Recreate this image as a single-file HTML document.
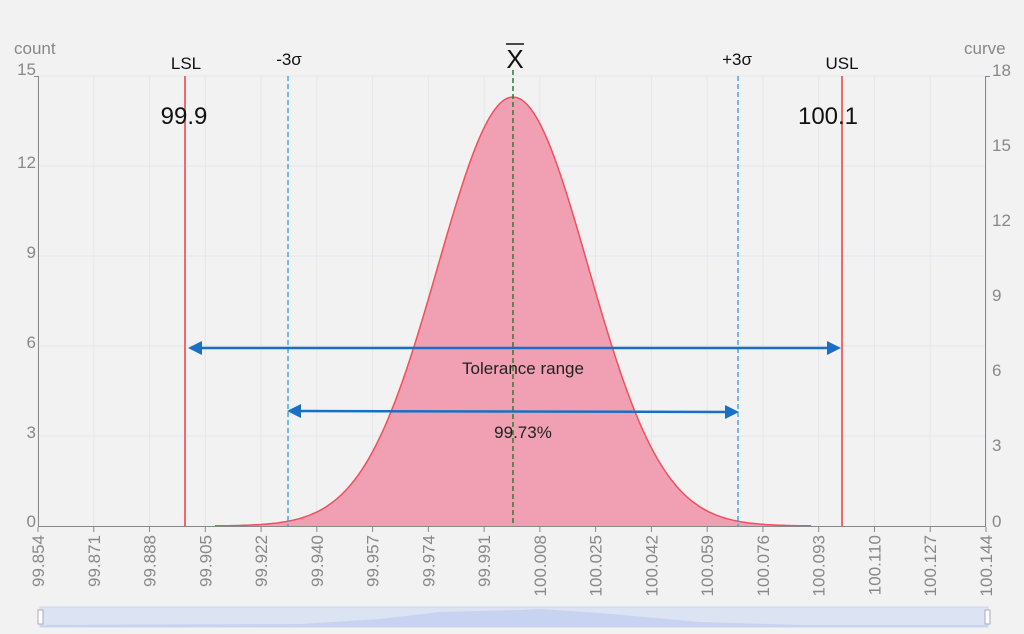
<!DOCTYPE html>
<html><head><meta charset="utf-8"><style>
body{margin:0;background:#f2f2f2;}
svg{display:block;font-family:"Liberation Sans","DejaVu Sans",sans-serif;}
</style></head><body>
<svg width="1024" height="634" viewBox="0 0 1024 634" xmlns="http://www.w3.org/2000/svg">
<rect width="1024" height="634" fill="#f2f2f2"/>
<g stroke="#e2e6ee" stroke-width="1">
<line x1="38" y1="76" x2="986" y2="76"/><line x1="38" y1="166" x2="986" y2="166"/>
<line x1="38" y1="256" x2="986" y2="256"/><line x1="38" y1="346" x2="986" y2="346"/>
<line x1="38" y1="436" x2="986" y2="436"/>
</g>
<g stroke="#e6e6ea" stroke-width="1" id="vg"></g>
<path id="fill" fill="#f0a0b2" stroke="none"/>
<path id="curve" fill="none" stroke="#f0505e" stroke-width="1.5"/>
<g stroke="#888" stroke-width="1">
<line x1="38.5" y1="76" x2="38.5" y2="527"/><line x1="985.5" y1="76" x2="985.5" y2="527"/>
<line x1="38" y1="526.5" x2="986" y2="526.5"/>
<line x1="34" y1="76.5" x2="38" y2="76.5"/><line x1="986" y1="76.5" x2="990" y2="76.5"/>
</g>
<g id="xt" stroke="#888"></g>
<g fill="#888" font-size="17">
<text x="36" y="75" text-anchor="end">15</text><text x="36" y="168" text-anchor="end">12</text>
<text x="36" y="258" text-anchor="end">9</text><text x="36" y="348" text-anchor="end">6</text>
<text x="36" y="438" text-anchor="end">3</text><text x="36" y="527" text-anchor="end">0</text>
<text x="992" y="76">18</text><text x="992" y="151">15</text><text x="992" y="226">12</text>
<text x="992" y="301">9</text><text x="992" y="376">6</text><text x="992" y="451">3</text>
<text x="992" y="527">0</text>
<text x="14" y="54">count</text><text x="964" y="54">curve</text>
</g>
<g id="xl" fill="#888" font-size="17"></g>
<line x1="185" y1="76" x2="185" y2="526" stroke="#f06a6a" stroke-width="2"/>
<line x1="842" y1="76" x2="842" y2="526" stroke="#f06a6a" stroke-width="2"/>
<line x1="288" y1="76" x2="288" y2="526" stroke="#2aa3dc" stroke-width="1.3" stroke-dasharray="5,3"/>
<line x1="738" y1="76" x2="738" y2="526" stroke="#2aa3dc" stroke-width="1.3" stroke-dasharray="5,3"/>
<line x1="513" y1="70" x2="513" y2="526" stroke="#2e7a2e" stroke-width="1.5" stroke-dasharray="5,3"/>
<g fill="#111" font-size="17" text-anchor="middle">
<text x="186" y="69">LSL</text><text x="842" y="69">USL</text>
<text x="289" y="65">-3σ</text><text x="737" y="65">+3σ</text>
<text x="515" y="68" font-size="26">X</text>
</g>
<line x1="506" y1="44" x2="524" y2="44" stroke="#111" stroke-width="1.5"/>
<text x="184" y="124" font-size="24" text-anchor="middle" fill="#111">99.9</text>
<text x="828" y="124" font-size="24" text-anchor="middle" fill="#111">100.1</text>
<g stroke="#1a6fc4" stroke-width="2.5" fill="#1a6fc4">
<line x1="196" y1="348" x2="832" y2="348"/>
<path d="M188 348 L202 341 L202 355 Z" stroke="none"/><path d="M841 348 L827 341 L827 355 Z" stroke="none"/>
<line x1="296" y1="411" x2="730" y2="412"/>
<path d="M287 411 L301 404 L301 418 Z" stroke="none"/><path d="M739 412 L725 405 L725 419 Z" stroke="none"/>
</g>
<g fill="#222" font-size="17" text-anchor="middle">
<text x="523" y="374">Tolerance range</text><text x="523" y="438">99.73%</text>
</g>
<rect x="40" y="607" width="948" height="20" fill="#dce3f2" stroke="#cdd6ec"/>
<path d="M40 625 L300 624 L380 619 L440 612 L520 610 L540 609 L600 613 L700 622 L800 625 L988 625 L988 627 L40 627Z" fill="#c7d3f0"/>
<rect x="38" y="610" width="5" height="14" fill="#fff" stroke="#aab"/>
<rect x="985" y="610" width="5" height="14" fill="#fff" stroke="#aab"/>
</svg>
<script>
var labs=["99.854","99.871","99.888","99.905","99.922","99.940","99.957","99.974","99.991","100.008","100.025","100.042","100.059","100.076","100.093","100.110","100.127","100.144"];
var xt=document.getElementById('xt'),xl=document.getElementById('xl'),vg=document.getElementById('vg'),ns="http://www.w3.org/2000/svg";
for(var i=0;i<18;i++){var x=38+i*948/17;
var l=document.createElementNS(ns,'line');l.setAttribute('x1',x);l.setAttribute('x2',x);l.setAttribute('y1',527);l.setAttribute('y2',532);xt.appendChild(l);
var g=document.createElementNS(ns,'line');g.setAttribute('x1',x);g.setAttribute('x2',x);g.setAttribute('y1',76);g.setAttribute('y2',526);vg.appendChild(g);
var t=document.createElementNS(ns,'text');t.setAttribute('transform','translate('+(x+6)+',535) rotate(-90)');t.setAttribute('text-anchor','end');t.textContent=labs[i];xl.appendChild(t);}
var d="",f="M215 526";for(var x=215;x<=812;x+=2){var y=526-429*Math.exp(-Math.pow((x-513)/75,2)/2);d+=(x==215?"M":"L")+x+" "+y.toFixed(1)+" ";f+=" L"+x+" "+y.toFixed(1);}
f+=" L812 526 Z";document.getElementById('curve').setAttribute('d',d);document.getElementById('fill').setAttribute('d',f);
</script>
</body></html>
